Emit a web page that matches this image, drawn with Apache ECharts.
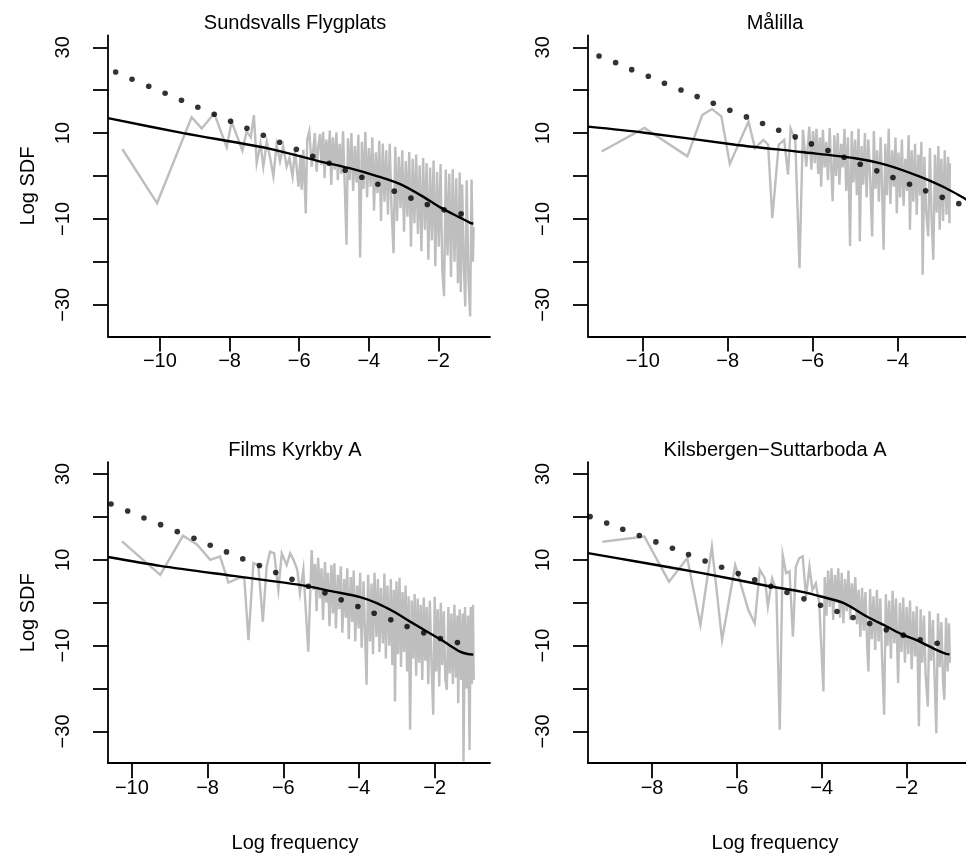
<!doctype html>
<html lang="en">

<head>
  <meta charset="UTF-8">
  <title>Log SDF</title>
  <style>
    * {
      margin: 0;
      padding: 0;
    }

    html,
    body {
      width: 100%;
      height: 100%;
      background: #ffffff;
    }

    #main {
      width: 966px;
      height: 860px;
    }
  </style>
</head>

<body>
  <div id="main"></div>
  <script src="https://cdn.jsdelivr.net/npm/echarts@6.0.0/dist/echarts.min.js"></script>
  <script>
    // panel titles
    let titles = ['Sundsvalls Flygplats', 'Målilla', 'Films Kyrkby A', 'Kilsbergen\u2212Suttarboda A'];

    // tick values
    let yTicks = [-30, -20, -10, 0, 10, 20, 30];
    let yLabels = [-30, -10, 10, 30];
    let xTicksLeft = [-10, -8, -6, -4, -2];
    let xTicksMalilla = [-10, -8, -6, -4];
    let xTicksKils = [-8, -6, -4, -2];

    // axis ranges (log frequency)
    let xRangeSunds = [-11.49, -0.52];
    let xRangeMalilla = [-11.29, -2.39];
    let xRangeFilms = [-10.63, -0.54];
    let xRangeKils = [-9.51, -0.60];
    let yRange = [-37.4, 32.75];

    // ---- Sundsvalls Flygplats ----
    let sundsGray = [
      [-11.08, 6.3], [-10.08, -6.3], [-9.09, 13.7], [-8.80, 11.1], [-8.44, 14.6], [-8.08, 6.7], [-7.94, 12.7],
      [-7.63, 5.9], [-7.51, 10.4], [-7.39, 9.0], [-7.30, 14.2], [-7.22, 3.0], [-7.17, 2.6], [-7.11, 7.6],
      [-7.03, 2.2], [-6.93, 8.0], [-6.84, 4.5], [-6.74, -0.1], [-6.65, 7.3], [-6.55, 3.4], [-6.46, 6.9],
      [-6.36, 2.2], [-6.28, 4.2], [-6.19, -0.1], [-6.12, 6.1], [-6.02, -2.5], [-5.96, 5.0], [-5.93, -3.2],
      [-5.88, 6.1], [-5.81, -8.7], [-5.77, 8.4], [-5.71, 10.4], [-5.64, 2.2], [-5.55, 10.0], [-5.50, 1.0],
      [-5.45, 6.9], [-5.40, 9.8], [-5.36, 2.5], [-5.31, 10.3], [-5.27, -0.5], [-5.22, 8.5], [-5.17, 3.0],
      [-5.12, 10.6], [-5.08, -2.1], [-5.03, 9.0], [-4.98, 1.5], [-4.93, 10.2], [-4.89, -1.0], [-4.84, 7.5],
      [-4.79, 0.5], [-4.74, 10.4], [-4.69, -2.5], [-4.64, -16.0], [-4.60, 8.8], [-4.55, -1.0], [-4.50, 10.0],
      [-4.45, -3.5], [-4.40, 7.0], [-4.35, -1.5], [-4.30, 9.6], [-4.25, -19.0], [-4.20, 8.0], [-4.15, -3.0],
      [-4.10, 10.3], [-4.05, -5.0], [-4.00, 6.5], [-3.95, -2.5], [-3.90, 9.0], [-3.85, -8.0], [-3.80, 5.5],
      [-3.75, -4.0], [-3.70, 8.2], [-3.65, -10.5], [-3.60, 7.6], [-3.55, -6.0], [-3.50, 6.0], [-3.45, -9.0],
      [-3.40, 7.5], [-3.35, -7.0], [-3.29, -18.0], [-3.24, 6.8], [-3.19, -10.5], [-3.14, 4.5], [-3.09, -7.5],
      [-3.04, 6.0], [-2.99, -13.0], [-2.94, 3.5], [-2.89, -9.5], [-2.84, 5.6], [-2.79, -16.5], [-2.74, 4.0],
      [-2.69, -11.0], [-2.64, 5.0], [-2.59, -13.5], [-2.54, 2.5], [-2.49, -17.5], [-2.44, 4.2], [-2.39, -12.5],
      [-2.34, 3.0], [-2.29, -19.5], [-2.24, 2.0], [-2.19, -15.0], [-2.14, 3.6], [-2.09, -21.0], [-2.04, 1.0],
      [-1.99, -16.5], [-1.94, 2.8], [-1.89, -22.0], [-1.84, -28.0], [-1.79, 1.5], [-1.74, -18.5], [-1.69, 0.5],
      [-1.64, -23.5], [-1.59, 1.6], [-1.54, -20.0], [-1.49, -0.5], [-1.44, -25.0], [-1.39, 0.8], [-1.36, -27.0],
      [-1.32, -2.0], [-1.27, -21.5], [-1.23, -30.4], [-1.19, -1.0], [-1.14, -24.0], [-1.09, -32.7], [-1.05, -0.8],
      [-1.01, -20.0], [-0.99, -12.0]
    ];
    let sundsFit = [
      [-11.49, 13.5], [-9.33, 10.0], [-6.93, 6.5], [-5.50, 3.6], [-4.45, 1.6], [-3.77, 0.0], [-3.10, -1.9],
      [-2.53, -4.4], [-1.95, -7.3], [-1.38, -9.7], [-1.09, -10.9], [-1.00, -11.1]
    ];
    let sundsDots = [
      [-11.27, 24.25], [-10.80, 22.55], [-10.32, 20.92], [-9.85, 19.29], [-9.38, 17.66], [-8.91, 16.03],
      [-8.44, 14.40], [-7.97, 12.77], [-7.50, 11.14], [-7.03, 9.51], [-6.56, 7.88], [-6.08, 6.25],
      [-5.61, 4.62], [-5.14, 2.99], [-4.68, 1.36], [-4.20, -0.27], [-3.74, -1.90], [-3.27, -3.53],
      [-2.79, -5.16], [-2.32, -6.65], [-1.84, -7.88], [-1.35, -8.81]
    ];

    // ---- Målilla ----
    let malillaGray = [
      [-10.97, 5.7], [-9.96, 11.2], [-8.95, 4.6], [-8.60, 14.2], [-8.37, 15.6], [-8.15, 13.9], [-7.95, 2.8],
      [-7.51, 12.7], [-7.36, 6.5], [-7.16, 8.4], [-7.05, 7.3], [-6.95, -9.8], [-6.80, 7.3], [-6.67, 8.4],
      [-6.58, 0.3], [-6.52, 11.1], [-6.41, 8.4], [-6.31, -21.5], [-6.23, 10.8], [-6.15, 2.2], [-6.08, 11.5],
      [-6.03, 1.5], [-5.99, 10.5], [-5.95, 3.0], [-5.91, 11.0], [-5.87, 0.5], [-5.83, 9.0], [-5.80, -2.5],
      [-5.76, 10.8], [-5.72, 2.0], [-5.68, 8.0], [-5.64, -1.0], [-5.60, 11.2], [-5.56, 1.0], [-5.53, -5.9],
      [-5.49, 9.5], [-5.45, 0.0], [-5.41, 10.0], [-5.37, -2.0], [-5.33, 7.5], [-5.29, 2.0], [-5.25, 11.0],
      [-5.21, -3.5], [-5.17, 9.0], [-5.12, -16.3], [-5.08, 10.5], [-5.04, -1.5], [-5.00, 8.5], [-4.96, -4.5],
      [-4.92, 11.0], [-4.89, -15.2], [-4.85, 7.0], [-4.81, -2.0], [-4.77, 10.0], [-4.73, -5.0], [-4.69, 8.5],
      [-4.65, 0.5], [-4.60, -14.1], [-4.56, 10.5], [-4.52, -3.0], [-4.48, 6.0], [-4.44, -6.0], [-4.40, 9.0],
      [-4.37, -1.0], [-4.33, -17.2], [-4.29, 7.5], [-4.25, -4.5], [-4.21, 11.0], [-4.17, -6.5], [-4.13, 6.0],
      [-4.09, -2.5], [-4.05, 9.0], [-4.02, -8.7], [-3.98, 5.5], [-3.94, -5.0], [-3.90, 8.5], [-3.86, -7.0],
      [-3.82, 4.0], [-3.78, -3.5], [-3.74, 9.5], [-3.71, -12.5], [-3.67, 6.0], [-3.63, -6.0], [-3.59, 7.5],
      [-3.55, -9.0], [-3.51, 5.0], [-3.47, -4.5], [-3.44, 8.0], [-3.41, -23.0], [-3.37, 4.5], [-3.33, -8.0],
      [-3.28, -14.1], [-3.24, 6.5], [-3.20, -10.0], [-3.16, -19.5], [-3.12, 5.0], [-3.08, -8.5], [-3.04, 7.0],
      [-3.01, -12.5], [-2.97, 4.0], [-2.93, -10.5], [-2.89, 6.0], [-2.85, -9.0], [-2.81, 4.5], [-2.78, -11.0],
      [-2.77, 3.0]
    ];
    let malillaFit = [
      [-11.29, 11.5], [-9.96, 10.1], [-7.82, 7.3], [-6.27, 5.6], [-5.04, 4.2], [-4.27, 2.6], [-3.49, -0.1],
      [-2.87, -2.8], [-2.48, -4.9], [-2.38, -5.5]
    ];
    let malillaDots = [
      [-11.03, 27.97], [-10.64, 26.42], [-10.26, 24.79], [-9.87, 23.24], [-9.49, 21.61], [-9.10, 20.06],
      [-8.72, 18.51], [-8.34, 16.96], [-7.95, 15.33], [-7.56, 13.78], [-7.18, 12.23], [-6.80, 10.67],
      [-6.41, 9.12], [-6.03, 7.49], [-5.64, 5.94], [-5.26, 4.39], [-4.88, 2.75], [-4.49, 1.20],
      [-4.11, -0.35], [-3.72, -1.90], [-3.34, -3.45], [-2.95, -4.97], [-2.56, -6.44]
    ];

    // ---- Films Kyrkby A ----
    let filmsGray = [
      [-10.26, 14.3], [-9.25, 6.5], [-8.65, 15.6], [-8.28, 13.6], [-7.93, 10.0], [-7.67, 10.8], [-7.45, 4.7],
      [-7.14, 5.9], [-7.03, 5.7], [-6.92, -8.7], [-6.79, 9.2], [-6.66, 8.8], [-6.54, -4.4], [-6.44, 8.4],
      [-6.35, 11.9], [-6.24, 11.5], [-6.13, 3.0], [-6.04, 11.5], [-5.91, 8.8], [-5.82, 11.5], [-5.73, 10.0],
      [-5.63, 7.7], [-5.56, 2.2], [-5.47, 7.7], [-5.34, -11.4], [-5.25, 12.3], [-5.20, 3.0], [-5.16, 9.0],
      [-5.12, -2.0], [-5.08, 10.5], [-5.03, 1.0], [-4.99, 8.0], [-4.95, -4.0], [-4.90, 9.5], [-4.86, 0.0],
      [-4.82, 7.0], [-4.78, -5.5], [-4.73, 8.8], [-4.69, -2.5], [-4.65, 9.2], [-4.61, -6.0], [-4.56, 6.5],
      [-4.52, -1.5], [-4.48, 8.5], [-4.44, -7.0], [-4.39, 5.5], [-4.35, -3.5], [-4.31, 8.0], [-4.27, -8.5],
      [-4.22, 6.0], [-4.18, -4.5], [-4.14, 7.5], [-4.10, -9.0], [-4.05, 4.0], [-4.01, -6.0], [-3.97, 7.0],
      [-3.93, -10.5], [-3.88, 5.0], [-3.84, -7.5], [-3.80, -19.1], [-3.76, 6.5], [-3.71, -9.0], [-3.67, 4.5],
      [-3.63, -12.0], [-3.59, 7.0], [-3.54, -8.0], [-3.50, 5.5], [-3.46, -11.5], [-3.42, 3.5], [-3.37, -9.5],
      [-3.33, 6.8], [-3.29, -13.0], [-3.25, 4.0], [-3.20, -10.0], [-3.16, 5.5], [-3.12, -14.5], [-3.08, 3.0],
      [-3.05, -23.0], [-3.01, 5.0], [-2.97, -12.0], [-2.93, 5.8], [-2.89, -15.0], [-2.85, 2.5], [-2.81, -11.5],
      [-2.77, 4.0], [-2.73, -16.0], [-2.69, 1.5], [-2.65, -29.6], [-2.61, 0.5], [-2.57, -13.0], [-2.53, 2.0],
      [-2.49, -17.0], [-2.45, 1.0], [-2.41, -14.0], [-2.37, -0.5], [-2.33, -18.0], [-2.29, 1.2], [-2.25, -13.5],
      [-2.21, -1.0], [-2.17, -19.0], [-2.13, 0.5], [-2.08, -15.5], [-2.04, -26.1], [-2.00, 1.4], [-1.96, -16.0],
      [-1.92, -1.5], [-1.88, -19.5], [-1.84, 0.0], [-1.80, -14.5], [-1.76, -2.0], [-1.72, -18.0], [-1.68, -20.3],
      [-1.64, -1.0], [-1.60, -16.5], [-1.56, -2.5], [-1.52, -19.0], [-1.48, -0.5], [-1.44, -17.5], [-1.40, -3.0],
      [-1.38, -23.4], [-1.34, -1.5], [-1.30, -18.0], [-1.26, -2.5], [-1.24, -37.0], [-1.20, -1.0], [-1.16, -20.0],
      [-1.12, -3.0], [-1.08, -34.3], [-1.05, -1.0], [-1.02, -19.0], [-0.99, -0.5], [-0.97, -18.0]
    ];
    let filmsFit = [
      [-10.63, 10.65], [-9.25, 8.6], [-7.32, 6.25], [-5.56, 4.15], [-4.68, 2.6], [-3.97, 1.3], [-3.53, -0.1],
      [-3.09, -2.05], [-2.65, -4.4], [-2.21, -6.7], [-1.77, -9.0], [-1.33, -11.4], [-1.16, -11.9], [-0.98, -12.1]
    ];
    let filmsDots = [
      [-10.55, 23.02], [-10.11, 21.39], [-9.68, 19.76], [-9.24, 18.20], [-8.80, 16.57], [-8.36, 15.02],
      [-7.93, 13.39], [-7.50, 11.84], [-7.07, 10.21], [-6.63, 8.66], [-6.20, 7.03], [-5.77, 5.48],
      [-5.34, 3.85], [-4.90, 2.30], [-4.47, 0.67], [-4.03, -0.89], [-3.60, -2.44], [-3.16, -3.99],
      [-2.73, -5.54], [-2.29, -7.02], [-1.85, -8.34], [-1.40, -9.27]
    ];

    // ---- Kilsbergen-Suttarboda A ----
    let kilsGray = [
      [-9.17, 14.2], [-8.18, 15.4], [-7.60, 4.9], [-7.17, 10.4], [-6.86, -5.2], [-6.59, 13.1], [-6.35, -8.7],
      [-6.04, 8.8], [-5.73, -1.7], [-5.58, -4.8], [-5.46, 7.7], [-5.34, 5.7], [-5.27, -0.9], [-5.17, 5.7],
      [-5.07, 3.0], [-4.99, -29.6], [-4.92, 11.1], [-4.84, 6.9], [-4.76, 7.3], [-4.68, -7.9], [-4.61, 8.4],
      [-4.53, 10.4], [-4.45, 10.8], [-4.37, 1.4], [-4.29, 8.4], [-4.22, 3.0], [-4.14, 4.5], [-4.06, -0.1],
      [-3.96, -20.7], [-3.93, 6.0], [-3.89, -3.0], [-3.85, 7.5], [-3.81, -1.0], [-3.77, 8.0], [-3.73, -4.0],
      [-3.69, 6.5], [-3.65, 0.0], [-3.61, 8.0], [-3.57, -3.5], [-3.53, 7.0], [-3.49, -4.8], [-3.45, 5.5],
      [-3.41, -2.0], [-3.37, 7.5], [-3.33, -4.0], [-3.29, 4.5], [-3.25, -1.5], [-3.21, 6.0], [-3.17, -5.0],
      [-3.13, 3.0], [-3.09, -8.0], [-3.05, 3.5], [-3.01, -6.5], [-2.97, 2.5], [-2.93, -10.0], [-2.90, -16.0],
      [-2.86, 3.2], [-2.82, -8.5], [-2.78, 1.5], [-2.74, -11.0], [-2.70, 3.0], [-2.66, -9.0], [-2.62, 1.0],
      [-2.58, -12.5], [-2.53, -26.1], [-2.49, 2.0], [-2.45, -10.0], [-2.41, 0.5], [-2.37, -13.0], [-2.33, 2.8],
      [-2.29, -9.5], [-2.25, 1.0], [-2.20, -18.7], [-2.16, 0.0], [-2.12, -11.5], [-2.08, 1.2], [-2.04, -14.0],
      [-2.00, -1.0], [-1.96, -12.0], [-1.92, 0.5], [-1.88, -15.5], [-1.84, -2.0], [-1.80, -12.5], [-1.76, -0.8],
      [-1.71, -28.8], [-1.67, -1.5], [-1.63, -14.0], [-1.59, -3.0], [-1.55, -17.0], [-1.50, -24.2], [-1.46, -2.0],
      [-1.42, -13.5], [-1.38, -4.0], [-1.34, -17.5], [-1.30, -30.4], [-1.26, -2.5], [-1.22, -15.0], [-1.18, -4.5],
      [-1.14, -19.0], [-1.11, -22.6], [-1.07, -3.5], [-1.03, -16.0], [-1.00, -4.8], [-0.98, -14.0]
    ];
    let kilsFit = [
      [-9.51, 11.55], [-8.37, 9.6], [-6.82, 6.9], [-5.27, 3.9], [-4.49, 2.6], [-4.02, 1.45], [-3.48, -0.1],
      [-2.94, -3.2], [-2.47, -5.55], [-2.08, -7.5], [-1.69, -9.05], [-1.30, -11.0], [-1.07, -11.9], [-0.99, -12.0]
    ];
    let kilsDots = [
      [-9.46, 20.07], [-9.07, 18.59], [-8.69, 17.12], [-8.30, 15.65], [-7.91, 14.17], [-7.52, 12.69],
      [-7.14, 11.22], [-6.75, 9.74], [-6.36, 8.27], [-5.97, 6.79], [-5.58, 5.32], [-5.20, 3.85],
      [-4.82, 2.37], [-4.42, 0.90], [-4.03, -0.58], [-3.64, -2.05], [-3.26, -3.45], [-2.87, -4.85],
      [-2.48, -6.32], [-2.08, -7.56], [-1.68, -8.65], [-1.28, -9.43]
    ];

    let panels = [
      { title: titles[0], gray: sundsGray, fit: sundsFit, dots: sundsDots, xRange: xRangeSunds, xTicks: xTicksLeft },
      { title: titles[1], gray: malillaGray, fit: malillaFit, dots: malillaDots, xRange: xRangeMalilla, xTicks: xTicksMalilla },
      { title: titles[2], gray: filmsGray, fit: filmsFit, dots: filmsDots, xRange: xRangeFilms, xTicks: xTicksLeft },
      { title: titles[3], gray: kilsGray, fit: kilsFit, dots: kilsDots, xRange: xRangeKils, xTicks: xTicksKils }
    ];

    let font = 'Liberation Sans, Arial, Helvetica, sans-serif';
    let fontSize = 20;
    let plotW = 382, plotH = 301;
    let lefts = [108, 588, 108, 588];
    let tops = [35.5, 35.5, 462.2, 462.2];

    function minus(v) {
      return v < 0 ? '\u2212' + Math.abs(v) : String(v);
    }

    let grid = [], xAxis = [], yAxis = [], series = [], graphic = [];
    panels.forEach(function (p, i) {
      grid.push({ left: lefts[i], top: tops[i], width: plotW, height: plotH });
      xAxis.push({
        type: 'value',
        gridIndex: i,
        min: p.xRange[0],
        max: p.xRange[1],
        axisLine: { onZero: false, lineStyle: { color: '#000', width: 1.8 } },
        axisTick: { customValues: p.xTicks, length: 15, lineStyle: { color: '#000', width: 1.8 } },
        axisLabel: { customValues: p.xTicks, formatter: minus, fontSize: fontSize, color: '#000', fontFamily: font, margin: 15 },
        splitLine: { show: false }
      });
      yAxis.push({
        type: 'value',
        gridIndex: i,
        min: yRange[0],
        max: yRange[1],
        axisLine: { onZero: false, lineStyle: { color: '#000', width: 1.8 } },
        axisTick: { customValues: yTicks, length: 15, lineStyle: { color: '#000', width: 1.8 } },
        axisLabel: { customValues: yLabels, formatter: minus, rotate: 90, fontSize: fontSize, color: '#000', fontFamily: font, margin: 35 },
        splitLine: { show: false }
      });
      series.push({
        type: 'line', xAxisIndex: i, yAxisIndex: i, data: p.gray, symbol: 'none',
        lineStyle: { color: '#bebebe', width: 2.4, join: 'miter' }, z: 1, animation: false
      });
      series.push({
        type: 'line', xAxisIndex: i, yAxisIndex: i, data: p.fit, symbol: 'none', smooth: 0.3,
        lineStyle: { color: '#000', width: 2.4 }, z: 2, animation: false
      });
      series.push({
        type: 'scatter', xAxisIndex: i, yAxisIndex: i, data: p.dots, symbolSize: 5.6,
        itemStyle: { color: '#000' }, z: 3, animation: false
      });
      let cx = lefts[i] + plotW / 2 - 4;
      graphic.push({
        type: 'text', x: cx, y: tops[i] - 12,
        style: { text: p.title, font: fontSize + 'px ' + font, fill: '#000', align: 'center', verticalAlign: 'middle' }
      });
      if (i >= 2) {
        graphic.push({
          type: 'text', x: cx, y: 843,
          style: { text: 'Log frequency', font: fontSize + 'px ' + font, fill: '#000', align: 'center', verticalAlign: 'middle' }
        });
      }
      if (i % 2 === 0) {
        graphic.push({
          type: 'text', x: 28, y: tops[i] + plotH / 2, rotation: Math.PI / 2,
          style: { text: 'Log SDF', font: fontSize + 'px ' + font, fill: '#000', align: 'center', verticalAlign: 'middle' }
        });
      }
    });

    let myChart = echarts.init(document.getElementById('main'), null, { renderer: 'canvas' });
    myChart.setOption({
      backgroundColor: '#ffffff',
      animation: false,
      grid: grid,
      xAxis: xAxis,
      yAxis: yAxis,
      series: series,
      graphic: graphic
    });
  </script>
</body>

</html>
